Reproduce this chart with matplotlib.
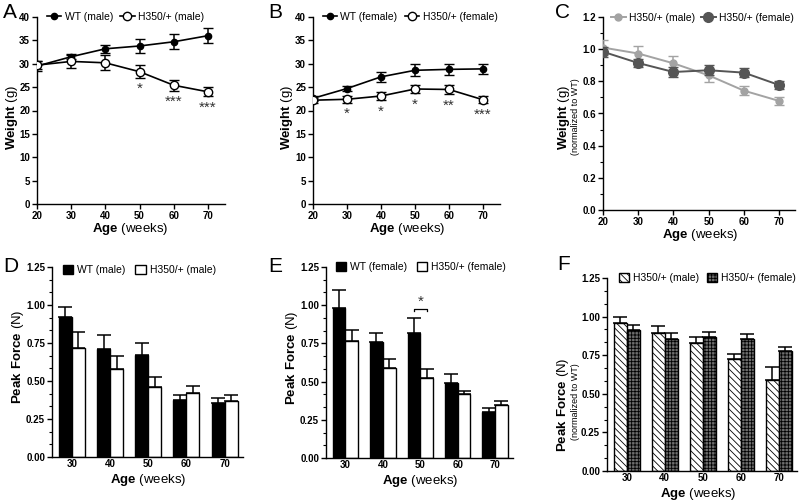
import numpy as np
import matplotlib
matplotlib.use('Agg')
from matplotlib import pyplot as plt
from matplotlib.patches import Patch
from matplotlib.ticker import MultipleLocator, FormatStrFormatter

plt.rcParams['font.family'] = ['Liberation Sans', 'DejaVu Sans']
plt.rcParams['mathtext.fontset'] = 'custom'
plt.rcParams['mathtext.rm'] = 'Liberation Sans'
plt.rcParams['mathtext.bf'] = 'Liberation Sans:bold'
plt.rcParams['hatch.linewidth'] = 0.6

# ---- data ----
ages = [20, 30, 40, 50, 60, 70]

wt_male = [29.5, 31.5, 33.2, 33.8, 34.7, 36.0]
wt_male_err = [1.0, 0.4, 0.9, 1.4, 1.6, 1.6]
h350_male = [29.7, 30.5, 30.2, 28.3, 25.4, 24.0]
h350_male_err = [0.8, 1.5, 1.6, 1.4, 1.2, 1.0]
stars_a = [(50, 24.6, '*'), (60, 21.9, '***'), (70, 20.5, '***')]

wt_female = [22.6, 24.7, 27.2, 28.6, 28.8, 28.9]
wt_female_err = [0.5, 0.5, 1.0, 1.3, 1.2, 1.1]
h350_female = [22.2, 22.4, 23.1, 24.6, 24.5, 22.3]
h350_female_err = [0.5, 0.7, 0.9, 0.9, 0.9, 0.8]
stars_b = [(30, 19.3, '*'), (40, 19.8, '*'), (50, 21.2, '*'), (60, 21.0, '**'), (70, 19.1, '***')]

norm_male = [1.01, 0.973, 0.912, 0.837, 0.742, 0.678]
norm_male_err = [0.045, 0.045, 0.048, 0.04, 0.03, 0.025]
norm_female = [0.984, 0.914, 0.858, 0.869, 0.854, 0.777]
norm_female_err = [0.03, 0.026, 0.03, 0.032, 0.03, 0.025]

force_ages = ['30', '40', '50', '60', '70']
force_wt_male = [0.922, 0.708, 0.669, 0.374, 0.352]
force_wt_male_err = [0.068, 0.092, 0.083, 0.032, 0.037]
force_h350_male = [0.715, 0.579, 0.463, 0.424, 0.367]
force_h350_male_err = [0.107, 0.088, 0.064, 0.044, 0.039]

force_wt_female = [0.984, 0.759, 0.818, 0.489, 0.303]
force_wt_female_err = [0.116, 0.061, 0.096, 0.061, 0.026]
force_h350_female = [0.768, 0.589, 0.524, 0.417, 0.345]
force_h350_female_err = [0.068, 0.057, 0.056, 0.021, 0.028]

force_norm_male = [0.957, 0.894, 0.827, 0.728, 0.587]
force_norm_male_err = [0.041, 0.046, 0.039, 0.032, 0.085]
force_norm_female = [0.911, 0.857, 0.866, 0.853, 0.778]
force_norm_female_err = [0.033, 0.035, 0.034, 0.033, 0.022]

W, H = 800, 501
fig = plt.figure(figsize=(8, 5.01), dpi=100)
LABEL_FS = 9.5


def add_ax(l, t, r, b):
    return fig.add_axes([l / W, 1 - b / H, (r - l) / W, (b - t) / H])


def style(ax):
    for s in ['top', 'right']:
        ax.spines[s].set_visible(False)
    for s in ['left', 'bottom']:
        ax.spines[s].set_linewidth(1.0)
    ax.tick_params(which='major', direction='out', length=3.5, width=1, labelsize=7, pad=1.5)
    ax.tick_params(which='minor', direction='out', length=2, width=0.8)
    for lab in ax.get_xticklabels() + ax.get_yticklabels():
        lab.set_fontweight('bold')


def put(x, y, s, fs=LABEL_FS, rot=0):
    # x, y in figure pixels from the top-left corner, text centred there
    fig.text(x / W, 1 - y / H, s, fontsize=fs, rotation=rot, ha='center', va='center')


def line_panel(ax, ylim, ystep):
    ax.set_xlim(20, 75)
    ax.set_ylim(*ylim)
    ax.set_xticks(ages)
    ax.yaxis.set_major_locator(MultipleLocator(ystep))
    style(ax)


def line_legend(ax, x0, y0, cs):
    h, l = ax.get_legend_handles_labels()
    ax.legend([hh[0] for hh in h], l, loc='center left', bbox_to_anchor=(x0, y0), ncol=2,
              frameon=False, fontsize=7.5, handlelength=1.4, handletextpad=0.3,
              columnspacing=cs, borderaxespad=0)


# ---- A ----
ax = add_ax(37, 17, 225, 204)
ax.errorbar(ages, wt_male, yerr=wt_male_err, color='black', marker='o', ms=4.5,
            lw=1.2, capsize=3.5, elinewidth=1.1, label='WT (male)', zorder=3)
ax.errorbar(ages, h350_male, yerr=h350_male_err, color='black', marker='o', ms=6,
            mfc='white', mec='black', lw=1.2, capsize=3.5, elinewidth=1.1,
            label='H350/+ (male)', zorder=4)
for x, y, s in stars_a:
    ax.text(x, y, s, ha='center', va='center', fontsize=11, color='#333333')
line_panel(ax, (0, 40), 5)
line_legend(ax, 0.03, 1.0, 0.7)
put(12, 117, r'$\mathbf{Weight}$ (g)', rot=90)
put(130, 229, r'$\mathbf{Age}$ (weeks)')
fig.text(3 / W, 1 - 12 / H, 'A', fontsize=15, va='center', ha='left')

# ---- B ----
ax = add_ax(313, 17, 500, 204)
ax.errorbar(ages, wt_female, yerr=wt_female_err, color='black', marker='o', ms=4.5,
            lw=1.2, capsize=3.5, elinewidth=1.1, label='WT (female)', zorder=3)
ax.errorbar(ages, h350_female, yerr=h350_female_err, color='black', marker='o', ms=6,
            mfc='white', mec='black', lw=1.2, capsize=3.5, elinewidth=1.1,
            label='H350/+ (female)', zorder=4)
for x, y, s in stars_b:
    ax.text(x, y, s, ha='center', va='center', fontsize=11, color='#333333')
line_panel(ax, (0, 40), 5)
line_legend(ax, 0.03, 1.0, 0.7)
put(287, 117, r'$\mathbf{Weight}$ (g)', rot=90)
put(407, 229, r'$\mathbf{Age}$ (weeks)')
fig.text(268 / W, 1 - 12 / H, 'B', fontsize=15, va='center', ha='left')

# ---- C ----
ax = add_ax(603, 17, 795, 210)
ax.errorbar(ages, norm_male, yerr=norm_male_err, color='#a3a3a3', marker='o', ms=5,
            lw=1.4, capsize=3.5, elinewidth=1.1, label='H350/+ (male)', zorder=3)
ax.errorbar(ages, norm_female, yerr=norm_female_err, color='#555555', marker='o', ms=7,
            lw=1.4, capsize=3.5, elinewidth=1.1, label='H350/+ (female)', zorder=4)
ax.set_xlim(20, 74.5)
ax.set_ylim(0, 1.2)
ax.set_xticks(ages)
ax.yaxis.set_major_locator(MultipleLocator(0.2))
ax.yaxis.set_minor_locator(MultipleLocator(0.1))
ax.yaxis.set_major_formatter(FormatStrFormatter('%.1f'))
style(ax)
line_legend(ax, 0.02, 0.995, 0.6)
put(564, 117, r'$\mathbf{Weight}$ (g)', rot=90)
put(576, 117, '(normalized to WT)', fs=6.5, rot=90)
put(700, 235, r'$\mathbf{Age}$ (weeks)')
fig.text(555 / W, 1 - 12 / H, 'C', fontsize=15, va='center', ha='left')


# ---- bar panels ----
def bar_panel(ax, a, a_err, b, b_err, fa, fb, hatch_a=None, hatch_b=None):
    x = np.arange(len(force_ages))
    bw = 0.34
    ax.bar(x - bw / 2, a, bw, color=fa, edgecolor='black', lw=1, hatch=hatch_a, zorder=2)
    ax.bar(x + bw / 2, b, bw, color=fb, edgecolor='black', lw=1, hatch=hatch_b, zorder=2)
    ax.errorbar(x - bw / 2, a, yerr=[np.zeros(len(a)), a_err], fmt='none', ecolor='black',
                elinewidth=1.1, capsize=5, capthick=1.1, zorder=1)
    ax.errorbar(x + bw / 2, b, yerr=[np.zeros(len(b)), b_err], fmt='none', ecolor='black',
                elinewidth=1.1, capsize=5, capthick=1.1, zorder=1)
    ax.set_xlim(-0.52, 4.48)
    ax.set_ylim(0, 1.25)
    ax.set_xticks(x)
    ax.set_xticklabels(force_ages)
    ax.yaxis.set_major_locator(MultipleLocator(0.25))
    ax.yaxis.set_minor_locator(MultipleLocator(0.25 / 3))
    ax.yaxis.set_major_formatter(FormatStrFormatter('%.2f'))
    style(ax)
    ax.tick_params(axis='x', length=0, pad=1.5)


def bar_legend(ax, handles, labels, x0, y0, cs):
    ax.legend(handles, labels, loc='center left', bbox_to_anchor=(x0, y0),
              ncol=2, frameon=False, fontsize=7.5, handlelength=1.0, handleheight=1.0,
              handletextpad=0.4, columnspacing=cs, borderaxespad=0)


# ---- D ----
ax = add_ax(52, 267, 243, 457)
bar_panel(ax, force_wt_male, force_wt_male_err, force_h350_male, force_h350_male_err,
          'black', 'white')
bar_legend(ax, [Patch(fc='black', ec='black'), Patch(fc='white', ec='black')],
           ['WT (male)', 'H350/+ (male)'], 0.035, 0.985, 0.9)
put(18, 357, r'$\mathbf{Peak\ Force}$ (N)', rot=90)
put(148, 480, r'$\mathbf{Age}$ (weeks)')
fig.text(3 / W, 1 - 266 / H, 'D', fontsize=15, va='center', ha='left')

# ---- E ----
ax = add_ax(326, 267, 513, 458)
bar_panel(ax, force_wt_female, force_wt_female_err, force_h350_female, force_h350_female_err,
          'black', 'white')
ax.plot([2 - 0.17, 2 - 0.17, 2 + 0.17, 2 + 0.17], [0.96, 0.975, 0.975, 0.96], color='black', lw=0.9)
ax.text(2, 1.02, '*', ha='center', va='center', fontsize=11, color='#333333')
bar_legend(ax, [Patch(fc='black', ec='black'), Patch(fc='white', ec='black')],
           ['WT (female)', 'H350/+ (female)'], 0.03, 1.0, 0.9)
put(292, 358, r'$\mathbf{Peak\ Force}$ (N)', rot=90)
put(420, 481, r'$\mathbf{Age}$ (weeks)')
fig.text(268 / W, 1 - 266 / H, 'E', fontsize=15, va='center', ha='left')

# ---- F ----
ax = add_ax(607, 278, 797, 471)
bar_panel(ax, force_norm_male, force_norm_male_err, force_norm_female, force_norm_female_err,
          'white', '#6e6e6e', hatch_a='\\\\\\\\\\', hatch_b='+++++')
ax.tick_params(axis='x', pad=1.5)
bar_legend(ax, [Patch(fc='white', ec='black', hatch='\\\\\\\\\\'),
                Patch(fc='#6e6e6e', ec='black', hatch='+++++')],
           ['H350/+ (male)', 'H350/+ (female)'], 0.04, 1.0, 0.7)
put(563, 405, r'$\mathbf{Peak\ Force}$ (N)', rot=90)
put(575, 402, '(normalized to WT)', fs=6.5, rot=90)
put(698, 494, r'$\mathbf{Age}$ (weeks)')
fig.text(557 / W, 1 - 264 / H, 'F', fontsize=15, va='center', ha='left')

fig.savefig('out.png', dpi=100)
